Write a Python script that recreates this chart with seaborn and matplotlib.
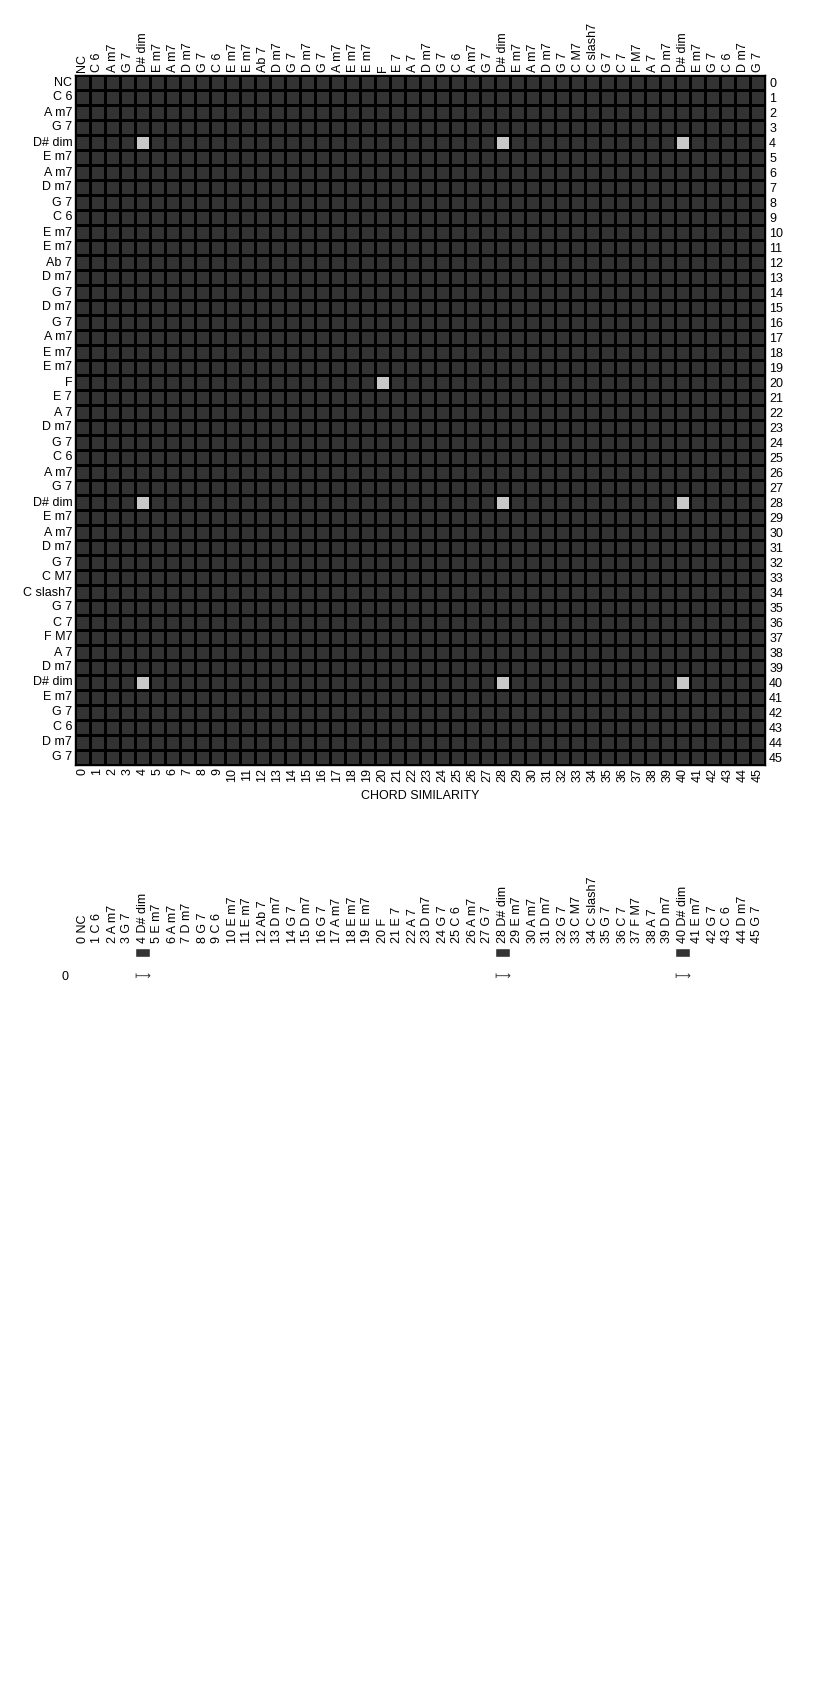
import numpy as np
import pandas as pd
import seaborn as sns
import matplotlib
matplotlib.use("Agg")
import matplotlib.pyplot as plt
from matplotlib.colors import ListedColormap

sns.set_theme(style="white")
plt.rcParams['font.family'] = ['Liberation Sans', 'DejaVu Sans']
plt.rcParams['text.color'] = 'black'
plt.rcParams['xtick.color'] = 'black'
plt.rcParams['ytick.color'] = 'black'
plt.rcParams['axes.labelcolor'] = 'black'

chords = ["NC", "C 6", "A m7", "G 7", "D# dim", "E m7", "A m7", "D m7", "G 7", "C 6",
          "E m7", "E m7", "Ab 7", "D m7", "G 7", "D m7", "G 7", "A m7", "E m7", "E m7",
          "F", "E 7", "A 7", "D m7", "G 7", "C 6", "A m7", "G 7", "D# dim", "E m7",
          "A m7", "D m7", "G 7", "C M7", "C slash7", "G 7", "C 7", "F M7", "A 7", "D m7",
          "D# dim", "E m7", "G 7", "C 6", "D m7", "G 7"]
indices = list(range(len(chords)))
# cells that are light (similar) in the matrix: (row, col)
similar_rows = [4, 4, 4, 20, 28, 28, 28, 40, 40, 40]
similar_cols = [4, 28, 40, 20, 4, 28, 40, 4, 28, 40]
# second panel: row 0 bars / arrows
panel_rows = ["0"]
panel_cols = [4, 28, 40]

n = len(chords)
mat = np.zeros((n, n))
for r, c in zip(similar_rows, similar_cols):
    mat[r, c] = 1
df = pd.DataFrame(mat, index=chords, columns=indices)

W, H = 840, 1700
fig = plt.figure(figsize=(W / 100, H / 100), dpi=100)
fs = 9

left, right = 75, 765
top, bottom = 75, 765
ax = fig.add_axes([left / W, 1 - bottom / H, (right - left) / W, (bottom - top) / H])
sns.heatmap(df, ax=ax, cmap=ListedColormap(['#333333', '#c8c8c8']), vmin=0, vmax=1,
            linewidths=1, linecolor='black', cbar=False, square=False)
for s in ax.spines.values():
    s.set_visible(True)
    s.set_color('black')
    s.set_linewidth(1)
ax.set_xticks(np.arange(n) + 0.5)
ax.set_xticklabels([str(i) for i in indices], rotation=90, fontsize=fs)
ax.set_yticks(np.arange(n) + 0.5)
ax.set_yticklabels(chords, rotation=0, fontsize=fs)
ax.tick_params(length=0, pad=2)
ax.set_xlabel("CHORD SIMILARITY", fontsize=fs, labelpad=6)
ax.set_ylabel("")

axt = ax.twiny()
axt.set_xlim(ax.get_xlim())
axt.set_xticks(np.arange(n) + 0.5)
axt.set_xticklabels(chords, rotation=90, fontsize=fs)
axt.tick_params(length=0, pad=2)
for s in axt.spines.values():
    s.set_visible(False)

axr = ax.twinx()
axr.set_ylim(ax.get_ylim())
axr.set_yticks(np.arange(n) + 0.5)
axr.set_yticklabels([str(i) for i in indices], fontsize=fs)
axr.tick_params(length=0, pad=3)
for s in axr.spines.values():
    s.set_visible(False)

# second panel
p_top, p_bot = 946, 986
ax2 = fig.add_axes([left / W, 1 - p_bot / H, (right - left) / W, (p_bot - p_top) / H])
ax2.set_xlim(0, n)
ax2.set_ylim(40, 0)
pc = np.array(panel_cols)
ax2.bar(pc + 0.5, 9, bottom=2, width=1, color='#333333')
for c in panel_cols:
    ax2.text(c + 0.5, 30, "\u27fc", ha='center', va='center', fontsize=fs - 1,
             family=['DejaVu Sans'], color='#333333')
ax2.set_yticks([30])
ax2.set_yticklabels(panel_rows, fontsize=fs)
ax2.tick_params(axis='y', length=0, pad=5)
ax2.xaxis.tick_top()
ax2.set_xticks(np.arange(n) + 0.5)
ax2.set_xticklabels([f"{i} {c}" for i, c in zip(indices, chords)], rotation=90, fontsize=fs)
ax2.tick_params(axis='x', length=0, pad=2)
for s in ax2.spines.values():
    s.set_visible(False)
ax2.set_facecolor('white')

fig.savefig("out.png", dpi=100, facecolor='white')
